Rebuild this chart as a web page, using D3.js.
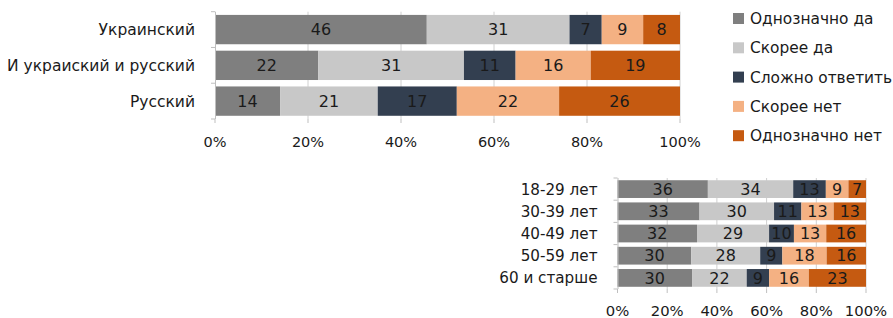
<!DOCTYPE html>
<html><head><meta charset="utf-8">
<script src="https://cdn.jsdelivr.net/npm/d3@7"></script>
<style>body{margin:0;background:#fff;} svg{display:block;} text{font-family:"DejaVu Sans",sans-serif;fill:#1a1a1a;}</style>
</head><body>
<script>
const seriesNames = ["Однозначно да","Скорее да","Сложно ответить","Скорее нет","Однозначно нет"];
const colors = ["#7f7f7f","#c8c8c8","#333f50","#f4b183","#c55a11"];
const langCats = ["Украинский","И украиский и русский","Русский"];
const langValues = [[46,31,7,9,8],[22,31,11,16,19],[14,21,17,22,26]];
const ageCats = ["18-29 лет","30-39 лет","40-49 лет","50-59 лет","60 и старше"];
const ageValues = [[36,34,13,9,7],[33,30,11,13,13],[32,29,10,13,16],[30,28,9,18,16],[30,22,9,16,23]];
const ticks = [0,20,40,60,80,100];

const svg = d3.select("body").append("svg").attr("width",893).attr("height",318);

function chart(cats, vals, x0, x1, y0, y1, pad, catFs, barFs, tickFs, tickY){
  const x = d3.scaleLinear().domain([0,100]).range([x0,x1]);
  const y = d3.scaleBand().domain(cats).range([y0,y1]).paddingInner(pad).paddingOuter(pad/2);
  const g = svg.append("g");
  g.selectAll("line.grid").data(ticks.slice(1)).join("line")
    .attr("x1",d=>x(d)).attr("x2",d=>x(d)).attr("y1",y0).attr("y2",y1)
    .attr("stroke","#d0d0d0").attr("stroke-width",1);
  cats.forEach((c,i)=>{
    let acc=0;
    const row = vals[i].map((v,j)=>{const s={v,j,a:acc}; acc+=v; return s;});
    const xs = d3.scaleLinear().domain([0,acc]).range([x0,x1]);
    g.selectAll(null).data(row).join("rect")
      .attr("x",d=>xs(d.a)).attr("width",d=>xs(d.a+d.v)-xs(d.a))
      .attr("y",y(c)).attr("height",y.bandwidth()).attr("fill",d=>colors[d.j]);
    g.selectAll(null).data(row).join("text")
      .attr("x",d=>(xs(d.a)+xs(d.a+d.v))/2).attr("y",y(c)+y.bandwidth()/2)
      .attr("dy","0.36em").attr("text-anchor","middle").style("font-size",barFs+"px")
      .text(d=>d.v);
  });
  g.append("line").attr("x1",x0+0.5).attr("x2",x0+0.5).attr("y1",y0).attr("y2",y1).attr("stroke","#bfbfbf");
  const bnds = d3.range(cats.length+1).map(k=>y0+k*(y1-y0)/cats.length);
  g.selectAll("line.tk").data(bnds).join("line").attr("x1",x0-4).attr("x2",x0).attr("y1",d=>d).attr("y2",d=>d).attr("stroke","#bfbfbf");
  g.selectAll("line.bt").data(ticks).join("line").attr("x1",d=>x(d)).attr("x2",d=>x(d)).attr("y1",y1).attr("y2",y1+4).attr("stroke","#bfbfbf");
  g.selectAll("text.cat").data(cats).join("text").attr("class","cat")
    .attr("x",x0-20).attr("y",d=>y(d)+y.bandwidth()/2).attr("dy","0.36em")
    .attr("text-anchor","end").style("font-size",catFs+"px").text(d=>d);
  g.selectAll("text.tl").data(ticks).join("text").attr("class","tl")
    .attr("x",d=>x(d)).attr("y",tickY).attr("dy","0.36em").attr("text-anchor","middle")
    .style("font-size",tickFs+"px").text(d=>d+"%");
}

chart(langCats, langValues, 215, 680, 11.7, 119, 0.18, 15.5, 16, 14.5, 142);
chart(ageCats, ageValues, 617.5, 866, 178, 289, 0.2, 15.2, 16, 14.8, 311);

const lg = svg.append("g");
lg.selectAll("rect").data(seriesNames).join("rect")
  .attr("x",733).attr("y",(d,i)=>13+i*29.3).attr("width",11).attr("height",11)
  .attr("fill",(d,i)=>colors[i]);
lg.selectAll("text").data(seriesNames).join("text")
  .attr("x",750).attr("y",(d,i)=>18.5+i*29.3).attr("dy","0.36em")
  .style("font-size","15.4px").text(d=>d);
</script>
</body></html>
